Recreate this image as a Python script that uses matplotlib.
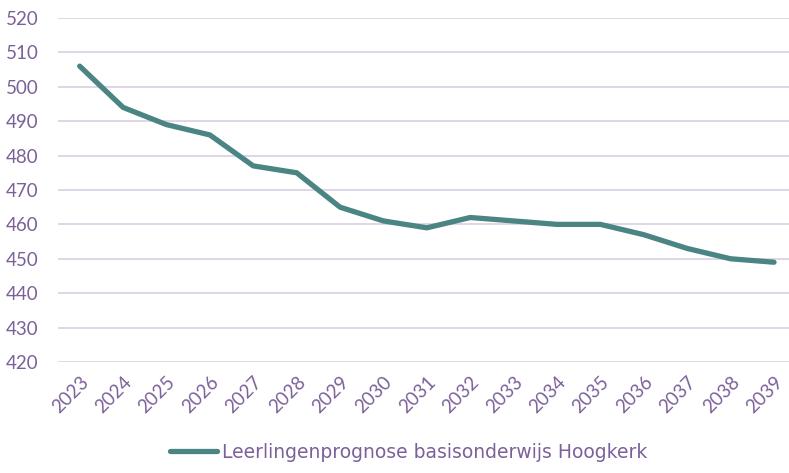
import matplotlib
matplotlib.use("Agg")
import matplotlib.pyplot as plt

years = [str(y) for y in range(2023, 2040)]
values = [506, 494, 489, 486, 477, 475, 465, 461, 459, 462, 461, 460, 460, 457, 453, 450, 449]
yticks = [420, 430, 440, 450, 460, 470, 480, 490, 500, 510, 520]
series_name = "Leerlingenprognose basisonderwijs Hoogkerk"

plt.rcParams['font.family'] = ['Lato', 'DejaVu Sans']
txt = '#7b6199'
fig = plt.figure(figsize=(7.89, 4.73), dpi=100)
ax = fig.add_axes([0.0735, 0.2347, 0.935, 0.7273])
x = list(range(len(years)))
ax.plot(x, values, color='#4b8583', lw=3.8, solid_capstyle='round', solid_joinstyle='round', label=series_name)
ax.set_ylim(420, 520)
ax.set_yticks(yticks)
ax.set_xlim(-0.5, len(years) - 0.5)
ax.set_xticks(x)
ax.set_xticklabels(years, rotation=45, ha='right', rotation_mode='anchor')
ax.tick_params(axis='both', length=0, colors=txt, labelsize=13.5)
ax.tick_params(axis='x', pad=8)
ax.tick_params(axis='y', pad=14)
ax.grid(axis='y', color='#dcd3e6', lw=1.3)
ax.set_axisbelow(True)
for s in ax.spines.values():
    s.set_visible(False)
leg = fig.legend(loc='lower center', bbox_to_anchor=(0.518, -0.012), frameon=False,
                 prop={'family': 'DejaVu Sans', 'size': 13.5}, handlelength=2.5, handletextpad=0.3)
for t in leg.get_texts():
    t.set_color(txt)
fig.savefig('out.png', dpi=100)
